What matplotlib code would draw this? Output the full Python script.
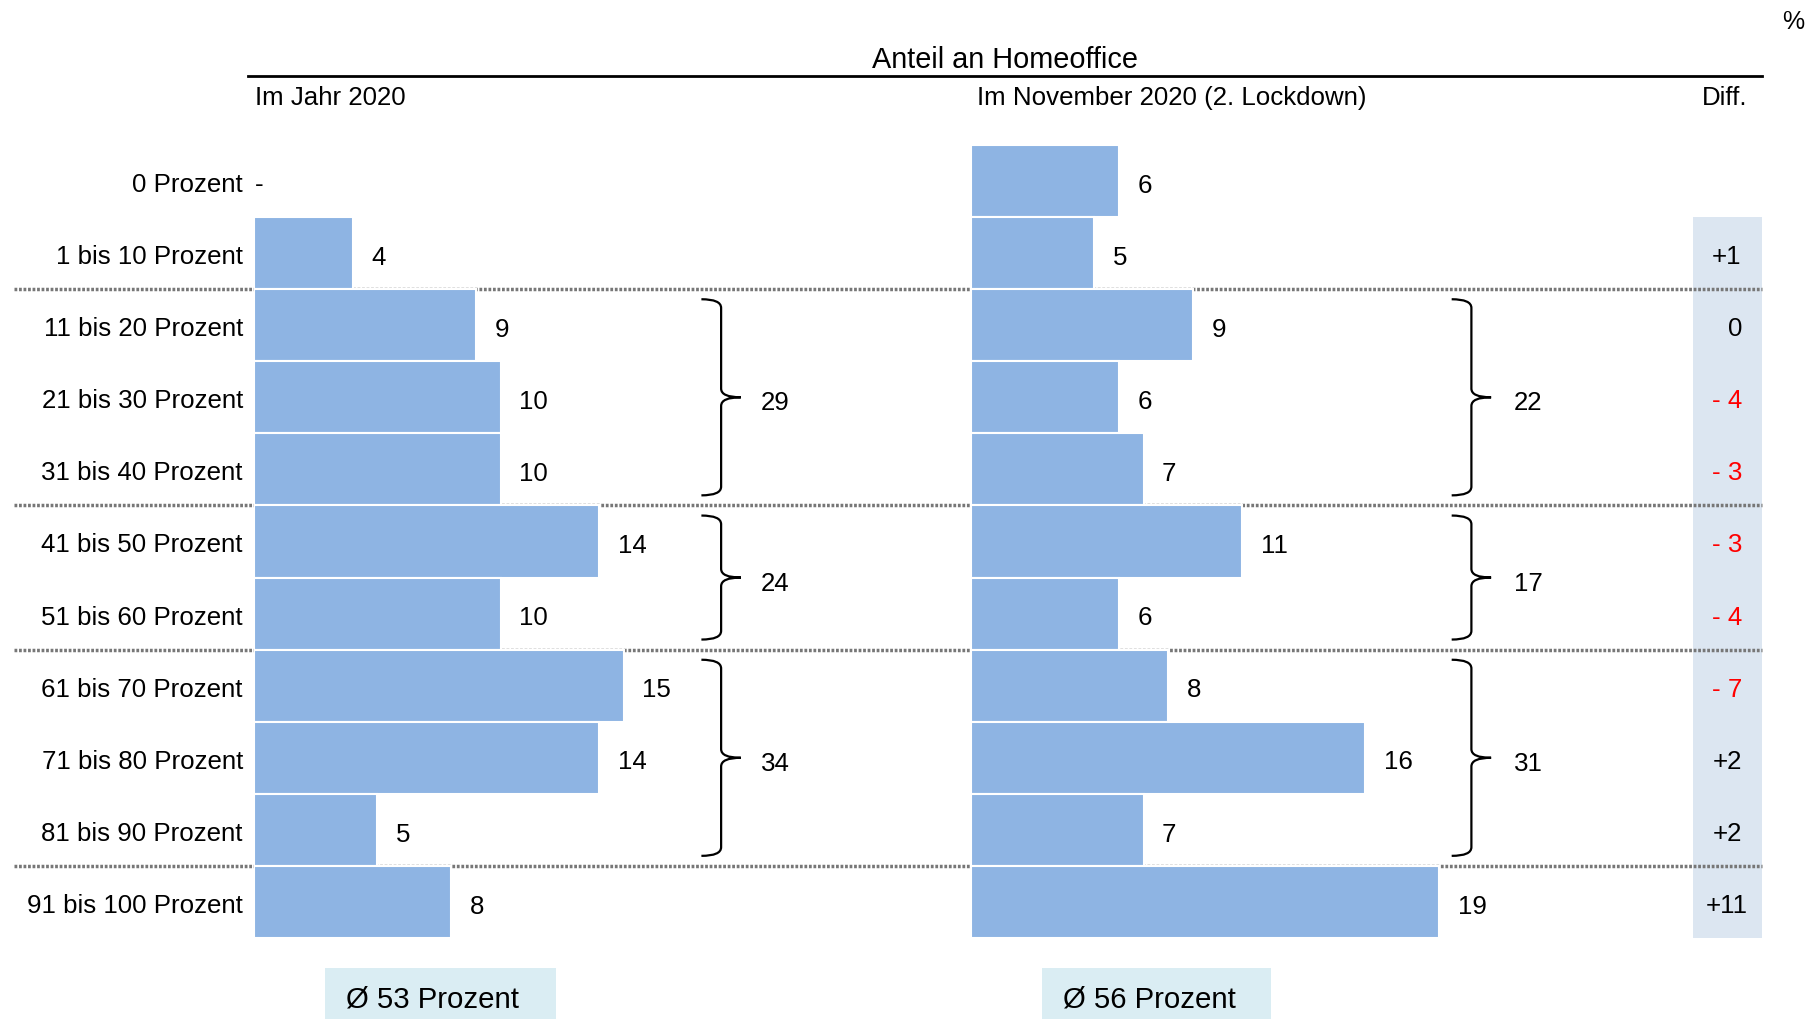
import matplotlib.pyplot as plt
from matplotlib.path import Path
from matplotlib.patches import PathPatch, Rectangle

plt.rcParams['font.family'] = ['Liberation Sans', 'DejaVu Sans']

# data
categories = ['0 Prozent', '1 bis 10 Prozent', '11 bis 20 Prozent', '21 bis 30 Prozent',
              '31 bis 40 Prozent', '41 bis 50 Prozent', '51 bis 60 Prozent', '61 bis 70 Prozent',
              '71 bis 80 Prozent', '81 bis 90 Prozent', '91 bis 100 Prozent']
jahr_2020 = [None, 4, 9, 10, 10, 14, 10, 15, 14, 5, 8]
nov_2020 = [6, 5, 9, 6, 7, 11, 6, 8, 16, 7, 19]
diff = [None, 1, 0, -4, -3, -3, -4, -7, 2, 2, 11]
groups = [(2, 4), (5, 6), (7, 9)]  # first and last row of each brace
group_2020 = [29, 24, 34]
group_nov = [22, 17, 31]
avg_2020 = 53
avg_nov = 56
separators = [1, 4, 6, 9]  # dotted line below these rows

# layout (pixels)
W, H = 1808, 1020
ROW0, ROWH = 182, 72.1   # centre of first row, row pitch
UNIT = 24.65             # pixels per percent point
BAR = '#8eb4e3'
FS = 18.6
DY = 3                   # small downward nudge for text

def row_px(i):
    return ROW0 + ROWH * i

fig = plt.figure(figsize=(W / 100, H / 100), dpi=100)

ax_bg = fig.add_axes([0, 0, 1, 1], zorder=0)
ax_bg.set_xlim(0, W)
ax_bg.set_ylim(H, 0)
ax_bg.axis('off')

bottom = 1 - row_px(10.5) / H
height = 11 * ROWH / H
ax1 = fig.add_axes([254 / W, bottom, 30 * UNIT / W, height], zorder=1)
ax2 = fig.add_axes([971 / W, bottom, 30 * UNIT / W, height], zorder=1)
for ax in (ax1, ax2):
    ax.set_xlim(0, 30)
    ax.set_ylim(10.5, -0.5)
    ax.axis('off')

rows = list(range(len(categories)))


def brace(ax, x, y0, y1, w=0.8, r=0.12):
    ym = (y0 + y1) / 2
    verts = [(x - w, y0), (x, y0), (x, y0 + r),
             (x, ym - r), (x, ym), (x + w, ym),
             (x, ym), (x, ym + r),
             (x, y1 - r), (x, y1), (x - w, y1)]
    codes = [Path.MOVETO, Path.CURVE3, Path.CURVE3,
             Path.LINETO, Path.CURVE3, Path.CURVE3,
             Path.CURVE3, Path.CURVE3,
             Path.LINETO, Path.CURVE3, Path.CURVE3]
    ax.add_patch(PathPatch(Path(verts, codes), fc='none', ec='black', lw=1.6, clip_on=False))


# bars + labels
for ax, vals, sums, bx, lx in ((ax1, jahr_2020, group_2020, 18.95, 21.15),
                               (ax2, nov_2020, group_nov, 20.3, 22.6)):
    ax.barh(rows, [v if v is not None else 0 for v in vals], height=1.0,
            color=BAR, edgecolor='white', linewidth=1.5)
    for i, v in enumerate(vals):
        if v is None:
            ax.text(0.03, i + 0.04, '-', ha='left', va='center', fontsize=FS)
        else:
            ax.text(v + 0.75, i + 0.05, str(v), ha='left', va='center', fontsize=FS)
    for (g0, g1), s in zip(groups, sums):
        brace(ax, bx, g0 - 0.36, g1 + 0.36)
        ax.text(lx, (g0 + g1) / 2 + 0.07, str(s), ha='center', va='center', fontsize=FS)

# category labels
for i, c in enumerate(categories):
    ax_bg.text(243, row_px(i) + DY, c, ha='right', va='center', fontsize=FS)

# diff column
ax_bg.add_patch(Rectangle((1693, row_px(0.5)), 69, row_px(10.5) - row_px(0.5),
                          fc='#dce6f1', ec='none', zorder=0))
for i, d in enumerate(diff):
    if d is None:
        continue
    y = row_px(i) + DY
    if d > 0:
        ax_bg.text(1727, y, '+%d' % d, ha='center', va='center', fontsize=FS)
    elif d < 0:
        ax_bg.text(1727, y, '- %d' % -d, ha='center', va='center', fontsize=FS, color='#ff0000')
    else:
        ax_bg.text(1735, y, '0', ha='center', va='center', fontsize=FS)

# dotted separators
for s in separators:
    y = row_px(s + 0.5)
    ax_bg.plot([14, 1762], [y, y], color='#777777', lw=2.5, ls=(0, (0.8, 0.5)), zorder=1)

# header
ax_bg.text(1005, 60, 'Anteil an Homeoffice', ha='center', va='center', fontsize=20.8)
ax_bg.plot([248, 1762], [77, 77], color='black', lw=2)
ax_bg.text(255, 98, 'Im Jahr 2020', ha='left', va='center', fontsize=FS)
ax_bg.text(977, 98, 'Im November 2020 (2. Lockdown)', ha='left', va='center', fontsize=FS)
ax_bg.text(1747, 98, 'Diff.', ha='right', va='center', fontsize=FS)
ax_bg.text(1793, 22, '%', ha='center', va='center', fontsize=18)

# average boxes
for x0, w, avg in ((325, 231, avg_2020), (1042, 229, avg_nov)):
    ax_bg.add_patch(Rectangle((x0, 969), w, 51, fc='#daedf3', ec='none'))
    ax_bg.text(x0 + 21, 1000, 'Ø %d Prozent' % avg, ha='left', va='center', fontsize=21.2)

fig.savefig('out.png', dpi=100)
